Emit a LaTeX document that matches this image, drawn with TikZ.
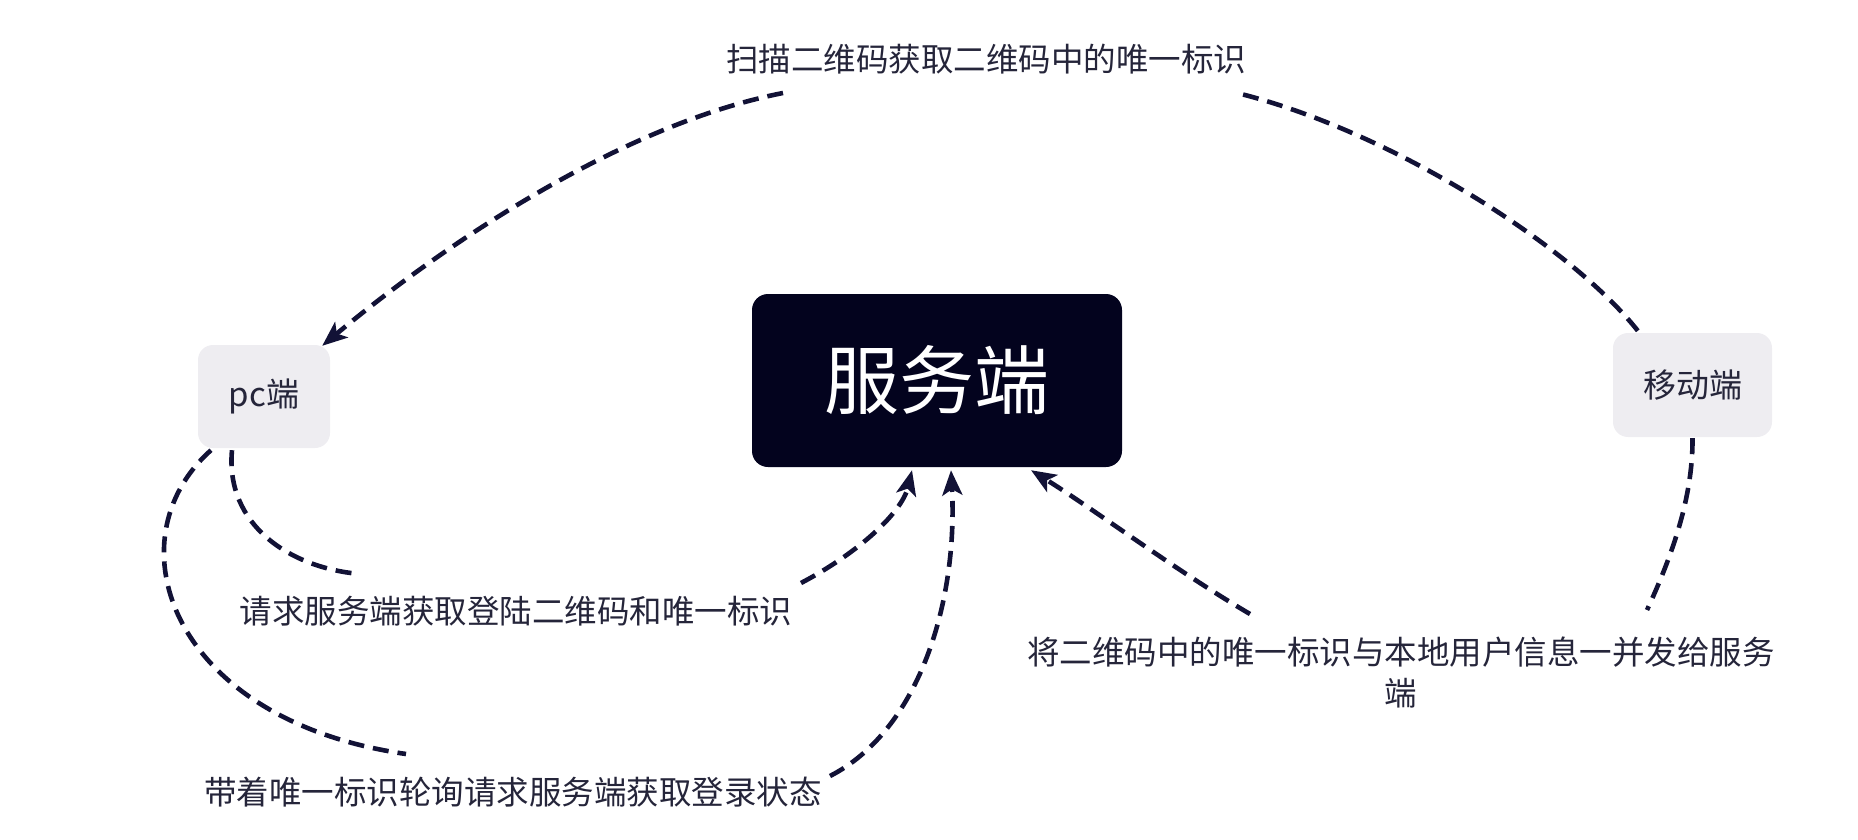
\documentclass[tikz,border=0pt]{standalone}
\usepackage{fontspec}
\setmainfont{Noto Sans CJK SC}
\usetikzlibrary{arrows.meta,calc}
\definecolor{navy}{HTML}{03031E}
\definecolor{linec}{HTML}{121236}
\definecolor{boxgray}{HTML}{EEEDF1}
\definecolor{txt}{HTML}{25253A}
\tikzset{
  server/.style={fill=navy, text=white, rounded corners=16pt, minimum width=370pt, minimum height=173pt, inner sep=0pt, font=\fontsize{75}{90}\selectfont},
  client/.style={fill=boxgray, text=txt, rounded corners=15pt, inner sep=0pt, font=\fontsize{33}{40}\selectfont},
  lbl/.style={text=txt, inner sep=0pt, font=\fontsize{32.5}{41}\selectfont},
  conn/.style={draw=linec, line width=4.6pt, dash pattern=on 16pt off 9pt},
  arr/.style={conn, -{Stealth[length=25pt,width=20pt,inset=6pt]}}
}
\begin{document}
\begin{tikzpicture}[x=1pt,y=-1pt]
\useasboundingbox (0,0) rectangle (1858,840);
\node[server] (srv) at (937,380.5) {服务端};
\node[client, minimum width=132pt, minimum height=103pt] (pc) at (264,396.5) {pc端};
\node[client, minimum width=159pt, minimum height=104pt] (mob) at (1692.5,385) {移动端};

\node[lbl] (scan) at (986,59) {扫描二维码获取二维码中的唯一标识};
\node[lbl] (req) at (516,611) {请求服务端获取登陆二维码和唯一标识};
\node[lbl] (poll) at (513,792) {带着唯一标识轮询请求服务端获取登录状态};
\node[lbl, align=center] (send) at (1401,672.5) {将二维码中的唯一标识与本地用户信息一并发给服务\\端};

% mobile -> scan label -> pc
\draw[conn] ($(mob.north west)+(25,-2)$) .. controls (1570,245) and (1388,130) .. ($(scan.center)+(251,34)$);
\draw[arr] ($(scan.center)+(-203,34)$) .. controls (620,125) and (442,246) .. ($(pc.north east)+(-8,1)$);

% pc -> request label -> server
\draw[conn] ($(pc.south)+(-32,2)$) .. controls (225,525) and (290,568) .. ($(req.center)+(-156,-37)$);
\draw[arr] ($(req.center)+(285,-28)$) .. controls (860,552) and (902,512) .. ($(srv.south)+(-25,3)$);

% pc -> poll label -> server
\draw[conn] ($(pc.south)+(-53,2)$) .. controls (110,540) and (170,720) .. ($(poll.center)+(-107,-38)$);
\draw[arr] ($(poll.center)+(317,-16)$) .. controls (920,730) and (958,600) .. ($(srv.south)+(14,3)$);

% mobile -> send label -> server
\draw[conn] ($(mob.south)+(0,1)$) .. controls (1693,500) and (1670,560) .. ($(send.center)+(246,-62.5)$);
\draw[arr] ($(send.center)+(-151,-58.5)$) .. controls (1175,570) and (1095,510) .. ($(srv.south)+(94,3)$);
\end{tikzpicture}
\end{document}
